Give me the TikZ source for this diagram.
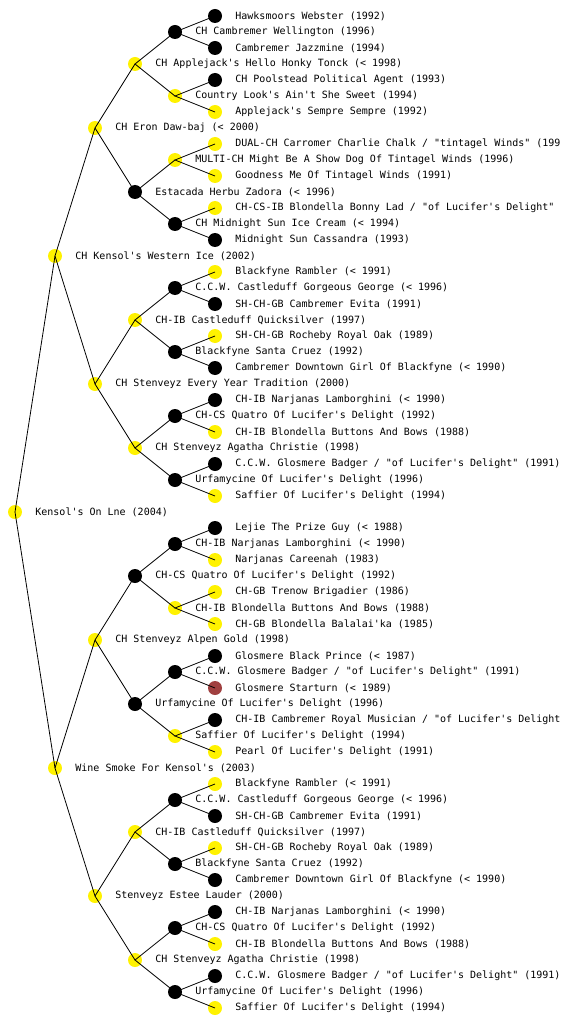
\documentclass[tikz,border=0pt]{standalone}
\usepackage{fontspec}
\newfontfamily\pedfont{DejaVu Sans Mono}
\definecolor{rust}{RGB}{160,64,64}

\begin{document}
\begin{tikzpicture}[x=1pt,y=-1pt,label distance=13pt,
dog/.style={circle,inner sep=0pt,minimum size=14pt},yel/.style={dog,fill=yellow},blk/.style={dog,fill=black},brn/.style={dog,fill=rust},
txt/.style={font=\pedfont\fontsize{10}{12}\selectfont,inner sep=0pt},link/.style={line width=0.8pt}]
\useasboundingbox (0,0) rectangle (560,1024);
\node[yel,label={[txt]right:{Kensol's On Lne (2004)}}] (k) at (15,512) {};
\node[yel,label={[txt]right:{CH Kensol's Western Ice (2002)}}] (ks) at (55,256) {};
\node[yel,label={[txt]right:{Wine Smoke For Kensol's (2003)}}] (kd) at (55,768) {};
\node[yel,label={[txt]right:{CH Eron Daw-baj (< 2000)}}] (kss) at (95,128) {};
\node[yel,label={[txt]right:{CH Stenveyz Every Year Tradition (2000)}}] (ksd) at (95,384) {};
\node[yel,label={[txt]right:{CH Stenveyz Alpen Gold (1998)}}] (kds) at (95,640) {};
\node[yel,label={[txt]right:{Stenveyz Estee Lauder (2000)}}] (kdd) at (95,896) {};
\node[yel,label={[txt]right:{CH Applejack's Hello Honky Tonck (< 1998)}}] (ksss) at (135,64) {};
\node[blk,label={[txt]right:{Estacada Herbu Zadora (< 1996)}}] (kssd) at (135,192) {};
\node[yel,label={[txt]right:{CH-IB Castleduff Quicksilver (1997)}}] (ksds) at (135,320) {};
\node[yel,label={[txt]right:{CH Stenveyz Agatha Christie (1998)}}] (ksdd) at (135,448) {};
\node[blk,label={[txt]right:{CH-CS Quatro Of Lucifer's Delight (1992)}}] (kdss) at (135,576) {};
\node[blk,label={[txt]right:{Urfamycine Of Lucifer's Delight (1996)}}] (kdsd) at (135,704) {};
\node[yel,label={[txt]right:{CH-IB Castleduff Quicksilver (1997)}}] (kdds) at (135,832) {};
\node[yel,label={[txt]right:{CH Stenveyz Agatha Christie (1998)}}] (kddd) at (135,960) {};
\node[blk,label={[txt]right:{CH Cambremer Wellington (1996)}}] (kssss) at (175,32) {};
\node[yel,label={[txt]right:{Country Look's Ain't She Sweet (1994)}}] (ksssd) at (175,96) {};
\node[yel,label={[txt]right:{MULTI-CH Might Be A Show Dog Of Tintagel Winds (1996)}}] (kssds) at (175,160) {};
\node[blk,label={[txt]right:{CH Midnight Sun Ice Cream (< 1994)}}] (kssdd) at (175,224) {};
\node[blk,label={[txt]right:{C.C.W. Castleduff Gorgeous George (< 1996)}}] (ksdss) at (175,288) {};
\node[blk,label={[txt]right:{Blackfyne Santa Cruez (1992)}}] (ksdsd) at (175,352) {};
\node[blk,label={[txt]right:{CH-CS Quatro Of Lucifer's Delight (1992)}}] (ksdds) at (175,416) {};
\node[blk,label={[txt]right:{Urfamycine Of Lucifer's Delight (1996)}}] (ksddd) at (175,480) {};
\node[blk,label={[txt]right:{CH-IB Narjanas Lamborghini (< 1990)}}] (kdsss) at (175,544) {};
\node[yel,label={[txt]right:{CH-IB Blondella Buttons And Bows (1988)}}] (kdssd) at (175,608) {};
\node[blk,label={[txt]right:{C.C.W. Glosmere Badger / "of Lucifer's Delight" (1991)}}] (kdsds) at (175,672) {};
\node[yel,label={[txt]right:{Saffier Of Lucifer's Delight (1994)}}] (kdsdd) at (175,736) {};
\node[blk,label={[txt]right:{C.C.W. Castleduff Gorgeous George (< 1996)}}] (kddss) at (175,800) {};
\node[blk,label={[txt]right:{Blackfyne Santa Cruez (1992)}}] (kddsd) at (175,864) {};
\node[blk,label={[txt]right:{CH-CS Quatro Of Lucifer's Delight (1992)}}] (kddds) at (175,928) {};
\node[blk,label={[txt]right:{Urfamycine Of Lucifer's Delight (1996)}}] (kdddd) at (175,992) {};
\node[blk,label={[txt]right:{Hawksmoors Webster (1992)}}] (ksssss) at (215,16) {};
\node[blk,label={[txt]right:{Cambremer Jazzmine (1994)}}] (kssssd) at (215,48) {};
\node[blk,label={[txt]right:{CH Poolstead Political Agent (1993)}}] (ksssds) at (215,80) {};
\node[yel,label={[txt]right:{Applejack's Sempre Sempre (1992)}}] (ksssdd) at (215,112) {};
\node[yel,label={[txt]right:{DUAL-CH Carromer Charlie Chalk / "tintagel Winds" (199}}] (kssdss) at (215,144) {};
\node[yel,label={[txt]right:{Goodness Me Of Tintagel Winds (1991)}}] (kssdsd) at (215,176) {};
\node[yel,label={[txt]right:{CH-CS-IB Blondella Bonny Lad / "of Lucifer's Delight"}}] (kssdds) at (215,208) {};
\node[blk,label={[txt]right:{Midnight Sun Cassandra (1993)}}] (kssddd) at (215,240) {};
\node[yel,label={[txt]right:{Blackfyne Rambler (< 1991)}}] (ksdsss) at (215,272) {};
\node[blk,label={[txt]right:{SH-CH-GB Cambremer Evita (1991)}}] (ksdssd) at (215,304) {};
\node[yel,label={[txt]right:{SH-CH-GB Rocheby Royal Oak (1989)}}] (ksdsds) at (215,336) {};
\node[blk,label={[txt]right:{Cambremer Downtown Girl Of Blackfyne (< 1990)}}] (ksdsdd) at (215,368) {};
\node[blk,label={[txt]right:{CH-IB Narjanas Lamborghini (< 1990)}}] (ksddss) at (215,400) {};
\node[yel,label={[txt]right:{CH-IB Blondella Buttons And Bows (1988)}}] (ksddsd) at (215,432) {};
\node[blk,label={[txt]right:{C.C.W. Glosmere Badger / "of Lucifer's Delight" (1991)}}] (ksddds) at (215,464) {};
\node[yel,label={[txt]right:{Saffier Of Lucifer's Delight (1994)}}] (ksdddd) at (215,496) {};
\node[blk,label={[txt]right:{Lejie The Prize Guy (< 1988)}}] (kdssss) at (215,528) {};
\node[yel,label={[txt]right:{Narjanas Careenah (1983)}}] (kdsssd) at (215,560) {};
\node[yel,label={[txt]right:{CH-GB Trenow Brigadier (1986)}}] (kdssds) at (215,592) {};
\node[yel,label={[txt]right:{CH-GB Blondella Balalai'ka (1985)}}] (kdssdd) at (215,624) {};
\node[blk,label={[txt]right:{Glosmere Black Prince (< 1987)}}] (kdsdss) at (215,656) {};
\node[brn,label={[txt]right:{Glosmere Starturn (< 1989)}}] (kdsdsd) at (215,688) {};
\node[blk,label={[txt]right:{CH-IB Cambremer Royal Musician / "of Lucifer's Delight}}] (kdsdds) at (215,720) {};
\node[yel,label={[txt]right:{Pearl Of Lucifer's Delight (1991)}}] (kdsddd) at (215,752) {};
\node[yel,label={[txt]right:{Blackfyne Rambler (< 1991)}}] (kddsss) at (215,784) {};
\node[blk,label={[txt]right:{SH-CH-GB Cambremer Evita (1991)}}] (kddssd) at (215,816) {};
\node[yel,label={[txt]right:{SH-CH-GB Rocheby Royal Oak (1989)}}] (kddsds) at (215,848) {};
\node[blk,label={[txt]right:{Cambremer Downtown Girl Of Blackfyne (< 1990)}}] (kddsdd) at (215,880) {};
\node[blk,label={[txt]right:{CH-IB Narjanas Lamborghini (< 1990)}}] (kdddss) at (215,912) {};
\node[yel,label={[txt]right:{CH-IB Blondella Buttons And Bows (1988)}}] (kdddsd) at (215,944) {};
\node[blk,label={[txt]right:{C.C.W. Glosmere Badger / "of Lucifer's Delight" (1991)}}] (kdddds) at (215,976) {};
\node[yel,label={[txt]right:{Saffier Of Lucifer's Delight (1994)}}] (kddddd) at (215,1008) {};
\draw[link] (ks.center)--(k.center)--(kd.center); \draw[link] (kss.center)--(ks.center)--(ksd.center); \draw[link] (kds.center)--(kd.center)--(kdd.center);
\draw[link] (ksss.center)--(kss.center)--(kssd.center); \draw[link] (ksds.center)--(ksd.center)--(ksdd.center); \draw[link] (kdss.center)--(kds.center)--(kdsd.center); \draw[link] (kdds.center)--(kdd.center)--(kddd.center);
\draw[link] (kssss.center)--(ksss.center)--(ksssd.center); \draw[link] (kssds.center)--(kssd.center)--(kssdd.center); \draw[link] (ksdss.center)--(ksds.center)--(ksdsd.center); \draw[link] (ksdds.center)--(ksdd.center)--(ksddd.center);
\draw[link] (kdsss.center)--(kdss.center)--(kdssd.center); \draw[link] (kdsds.center)--(kdsd.center)--(kdsdd.center); \draw[link] (kddss.center)--(kdds.center)--(kddsd.center); \draw[link] (kddds.center)--(kddd.center)--(kdddd.center);
\draw[link] (ksssss.center)--(kssss.center)--(kssssd.center); \draw[link] (ksssds.center)--(ksssd.center)--(ksssdd.center); \draw[link] (kssdss.center)--(kssds.center)--(kssdsd.center); \draw[link] (kssdds.center)--(kssdd.center)--(kssddd.center);
\draw[link] (ksdsss.center)--(ksdss.center)--(ksdssd.center); \draw[link] (ksdsds.center)--(ksdsd.center)--(ksdsdd.center); \draw[link] (ksddss.center)--(ksdds.center)--(ksddsd.center); \draw[link] (ksddds.center)--(ksddd.center)--(ksdddd.center);
\draw[link] (kdssss.center)--(kdsss.center)--(kdsssd.center); \draw[link] (kdssds.center)--(kdssd.center)--(kdssdd.center); \draw[link] (kdsdss.center)--(kdsds.center)--(kdsdsd.center); \draw[link] (kdsdds.center)--(kdsdd.center)--(kdsddd.center);
\draw[link] (kddsss.center)--(kddss.center)--(kddssd.center); \draw[link] (kddsds.center)--(kddsd.center)--(kddsdd.center); \draw[link] (kdddss.center)--(kddds.center)--(kdddsd.center); \draw[link] (kdddds.center)--(kdddd.center)--(kddddd.center);
\end{tikzpicture}
\end{document}
